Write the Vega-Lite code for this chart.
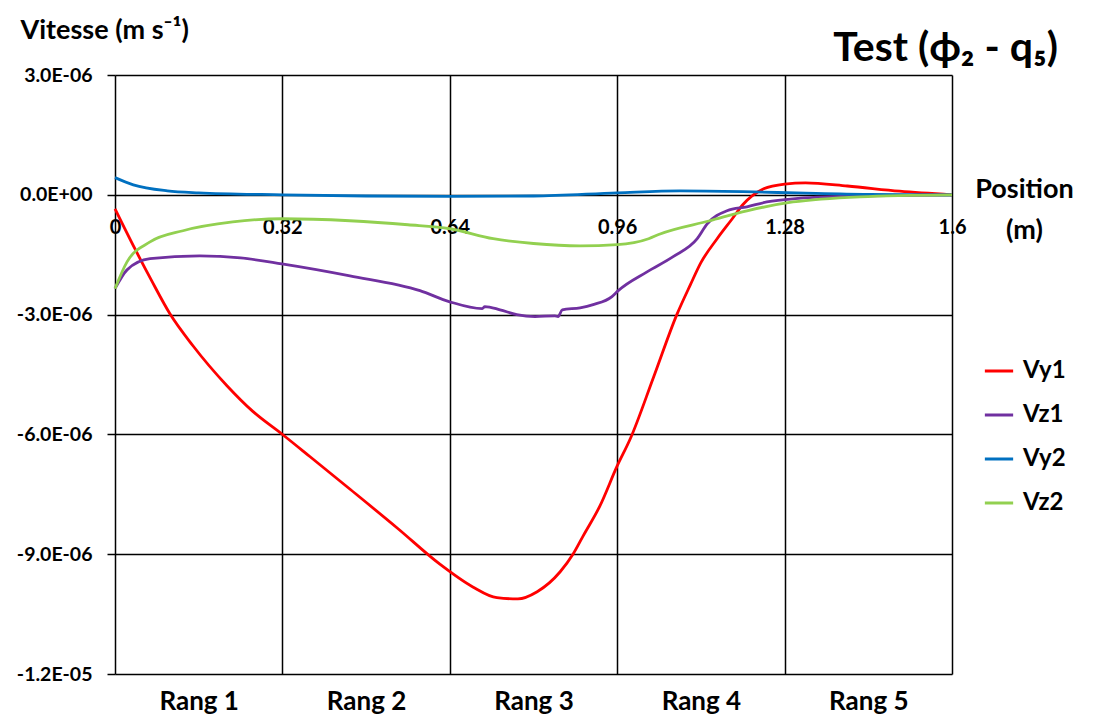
{
  "$schema": "https://vega.github.io/schema/vega-lite/v6.json",
  "width": 837,
  "height": 599,
  "autosize": {"type": "none"},
  "padding": {"left": 115, "top": 75, "right": 144, "bottom": 48},
  "background": "white",
  "config": {
    "font": "Lato",
    "view": {"stroke": null},
    "axis": {"labelFont": "Lato", "titleFont": "Lato"}
  },
  "title": {
    "text": "Test (ϕ₂ - q₅)",
    "anchor": "end",
    "frame": "group",
    "fontSize": 41,
    "fontWeight": "bold",
    "font": "Lato",
    "color": "black",
    "dx": 106,
    "dy": 66,
    "offset": 12
  },
  "data": {
    "values": [
      {"series": "Vy1", "pos": 0, "v": -0.35e-6},
      {"series": "Vy1", "pos": 0.038, "v": -1.35e-6},
      {"series": "Vy1", "pos": 0.07, "v": -2.15e-6},
      {"series": "Vy1", "pos": 0.105, "v": -2.98e-6},
      {"series": "Vy1", "pos": 0.149, "v": -3.78e-6},
      {"series": "Vy1", "pos": 0.214, "v": -4.78e-6},
      {"series": "Vy1", "pos": 0.264, "v": -5.43e-6},
      {"series": "Vy1", "pos": 0.319, "v": -5.99e-6},
      {"series": "Vy1", "pos": 0.373, "v": -6.56e-6},
      {"series": "Vy1", "pos": 0.45, "v": -7.38e-6},
      {"series": "Vy1", "pos": 0.54, "v": -8.35e-6},
      {"series": "Vy1", "pos": 0.621, "v": -9.25e-6},
      {"series": "Vy1", "pos": 0.684, "v": -9.82e-6},
      {"series": "Vy1", "pos": 0.73, "v": -10.09e-6},
      {"series": "Vy1", "pos": 0.77, "v": -10.12e-6},
      {"series": "Vy1", "pos": 0.807, "v": -9.94e-6},
      {"series": "Vy1", "pos": 0.851, "v": -9.44e-6},
      {"series": "Vy1", "pos": 0.876, "v": -8.99e-6},
      {"series": "Vy1", "pos": 0.895, "v": -8.54e-6},
      {"series": "Vy1", "pos": 0.927, "v": -7.79e-6},
      {"series": "Vy1", "pos": 0.96, "v": -6.79e-6},
      {"series": "Vy1", "pos": 0.985, "v": -6.11e-6},
      {"series": "Vy1", "pos": 1.03, "v": -4.55e-6},
      {"series": "Vy1", "pos": 1.074, "v": -3.0e-6},
      {"series": "Vy1", "pos": 1.1, "v": -2.25e-6},
      {"series": "Vy1", "pos": 1.12, "v": -1.7e-6},
      {"series": "Vy1", "pos": 1.151, "v": -1.1e-6},
      {"series": "Vy1", "pos": 1.18, "v": -0.6e-6},
      {"series": "Vy1", "pos": 1.2, "v": -0.25e-6},
      {"series": "Vy1", "pos": 1.24, "v": 0.15e-6},
      {"series": "Vy1", "pos": 1.28, "v": 0.27e-6},
      {"series": "Vy1", "pos": 1.32, "v": 0.3e-6},
      {"series": "Vy1", "pos": 1.4, "v": 0.22e-6},
      {"series": "Vy1", "pos": 1.5, "v": 0.09e-6},
      {"series": "Vy1", "pos": 1.6, "v": 0},

      {"series": "Vz1", "pos": 0, "v": -2.35e-6},
      {"series": "Vz1", "pos": 0.023, "v": -1.88e-6},
      {"series": "Vz1", "pos": 0.067, "v": -1.6e-6},
      {"series": "Vz1", "pos": 0.162, "v": -1.53e-6},
      {"series": "Vz1", "pos": 0.24, "v": -1.58e-6},
      {"series": "Vz1", "pos": 0.319, "v": -1.73e-6},
      {"series": "Vz1", "pos": 0.449, "v": -2.03e-6},
      {"series": "Vz1", "pos": 0.583, "v": -2.4e-6},
      {"series": "Vz1", "pos": 0.64, "v": -2.68e-6},
      {"series": "Vz1", "pos": 0.702, "v": -2.85e-6},
      {"series": "Vz1", "pos": 0.707, "v": -2.8e-6},
      {"series": "Vz1", "pos": 0.736, "v": -2.88e-6},
      {"series": "Vz1", "pos": 0.768, "v": -3.0e-6},
      {"series": "Vz1", "pos": 0.803, "v": -3.05e-6},
      {"series": "Vz1", "pos": 0.841, "v": -3.03e-6},
      {"series": "Vz1", "pos": 0.847, "v": -3.05e-6},
      {"series": "Vz1", "pos": 0.855, "v": -2.88e-6},
      {"series": "Vz1", "pos": 0.889, "v": -2.83e-6},
      {"series": "Vz1", "pos": 0.914, "v": -2.75e-6},
      {"series": "Vz1", "pos": 0.95, "v": -2.55e-6},
      {"series": "Vz1", "pos": 0.962, "v": -2.4e-6},
      {"series": "Vz1", "pos": 1.017, "v": -1.93e-6},
      {"series": "Vz1", "pos": 1.067, "v": -1.55e-6},
      {"series": "Vz1", "pos": 1.113, "v": -1.1e-6},
      {"series": "Vz1", "pos": 1.132, "v": -0.73e-6},
      {"series": "Vz1", "pos": 1.17, "v": -0.4e-6},
      {"series": "Vz1", "pos": 1.208, "v": -0.3e-6},
      {"series": "Vz1", "pos": 1.246, "v": -0.18e-6},
      {"series": "Vz1", "pos": 1.296, "v": -0.1e-6},
      {"series": "Vz1", "pos": 1.424, "v": -0.03e-6},
      {"series": "Vz1", "pos": 1.6, "v": 0},

      {"series": "Vy2", "pos": 0, "v": 0.43e-6},
      {"series": "Vy2", "pos": 0.035, "v": 0.25e-6},
      {"series": "Vy2", "pos": 0.1, "v": 0.1e-6},
      {"series": "Vy2", "pos": 0.16, "v": 0.05e-6},
      {"series": "Vy2", "pos": 0.32, "v": 0.0},
      {"series": "Vy2", "pos": 0.48, "v": -0.03e-6},
      {"series": "Vy2", "pos": 0.64, "v": -0.04e-6},
      {"series": "Vy2", "pos": 0.8, "v": -0.03e-6},
      {"series": "Vy2", "pos": 0.96, "v": 0.05e-6},
      {"series": "Vy2", "pos": 1.08, "v": 0.1e-6},
      {"series": "Vy2", "pos": 1.2, "v": 0.08e-6},
      {"series": "Vy2", "pos": 1.32, "v": 0.04e-6},
      {"series": "Vy2", "pos": 1.44, "v": 0.01e-6},
      {"series": "Vy2", "pos": 1.6, "v": 0},

      {"series": "Vz2", "pos": 0, "v": -2.35e-6},
      {"series": "Vz2", "pos": 0.023, "v": -1.68e-6},
      {"series": "Vz2", "pos": 0.067, "v": -1.18e-6},
      {"series": "Vz2", "pos": 0.13, "v": -0.9e-6},
      {"series": "Vz2", "pos": 0.225, "v": -0.68e-6},
      {"series": "Vz2", "pos": 0.32, "v": -0.6e-6},
      {"series": "Vz2", "pos": 0.449, "v": -0.65e-6},
      {"series": "Vz2", "pos": 0.56, "v": -0.75e-6},
      {"series": "Vz2", "pos": 0.64, "v": -0.85e-6},
      {"series": "Vz2", "pos": 0.723, "v": -1.1e-6},
      {"series": "Vz2", "pos": 0.8, "v": -1.22e-6},
      {"series": "Vz2", "pos": 0.889, "v": -1.28e-6},
      {"series": "Vz2", "pos": 0.96, "v": -1.25e-6},
      {"series": "Vz2", "pos": 1.02, "v": -1.1e-6},
      {"series": "Vz2", "pos": 1.042, "v": -0.98e-6},
      {"series": "Vz2", "pos": 1.137, "v": -0.65e-6},
      {"series": "Vz2", "pos": 1.208, "v": -0.4e-6},
      {"series": "Vz2", "pos": 1.296, "v": -0.18e-6},
      {"series": "Vz2", "pos": 1.424, "v": -0.05e-6},
      {"series": "Vz2", "pos": 1.6, "v": 0}
    ]
  },
  "layer": [
    {
      "mark": {"type": "line", "strokeWidth": 2.5, "opacity": 0},
      "encoding": {
        "x": {
          "field": "pos", "type": "quantitative",
          "scale": {"domain": [0, 1.6], "nice": false, "zero": false},
          "axis": {
            "orient": "bottom",
            "values": [0.16, 0.48, 0.8, 1.12, 1.44],
            "labelExpr": "'Rang ' + round(datum.value / 0.32 + 0.5)",
            "grid": false, "ticks": false, "domain": false,
            "labelFontSize": 26, "labelFontWeight": "bold", "labelColor": "black",
            "labelPadding": 14,
            "title": null
          }
        },
        "y": {
          "field": "v", "type": "quantitative",
          "scale": {"domain": [-1.2e-5, 3e-6], "nice": false},
          "axis": {
            "values": [3e-6, 0, -3e-6, -6e-6, -9e-6, -1.2e-5],
            "labelExpr": "replace(replace(replace(format(datum.value, '.1e'), 'e-', 'E-0'), 'e+', 'E+0'), '−', '-')",
            "grid": true, "gridColor": "black", "gridWidth": 1.5, "gridOpacity": 1,
            "ticks": true, "tickSize": 8, "tickColor": "black", "tickWidth": 1.5,
            "domain": false,
            "labelFontSize": 19.5, "labelFontWeight": "bold", "labelColor": "black",
            "labelPadding": 15, "labelFlush": false,
            "title": "Vitesse (m s⁻¹)",
            "titleAngle": 0, "titleAlign": "left", "titleBaseline": "alphabetic",
            "titleX": -95, "titleY": -37,
            "titleFontSize": 27, "titleFontWeight": "bold", "titleColor": "black"
          }
        },
        "detail": {"field": "series"}
      }
    },
    {
      "mark": {"type": "line", "strokeWidth": 2.8, "interpolate": "monotone"},
      "encoding": {
        "x": {
          "field": "pos", "type": "quantitative",
          "scale": {"domain": [0, 1.6], "nice": false, "zero": false},
          "axis": {
            "orient": "bottom",
            "offset": -478,
            "values": [0, 0.32, 0.64, 0.96, 1.28, 1.6],
            "labelExpr": "format(datum.value, '.2~f')",
            "grid": true, "gridColor": "black", "gridWidth": 1.5, "gridOpacity": 1,
            "ticks": false, "domain": false,
            "labelFontSize": 20, "labelFontWeight": "bold", "labelColor": "black",
            "labelPadding": 21, "labelFlush": false,
            "title": ["Position", "(m)"],
            "titleFontSize": 27, "titleFontWeight": "bold", "titleColor": "black",
            "titleX": 909, "titleY": 1, "titleAlign": "center", "titleBaseline": "alphabetic",
            "titleLineHeight": 41, "titleAngle": 0
          }
        },
        "y": {
          "field": "v", "type": "quantitative",
          "scale": {"domain": [-1.2e-5, 3e-6], "nice": false}
        },
        "color": {
          "field": "series", "type": "nominal",
          "scale": {"domain": ["Vy1", "Vz1", "Vy2", "Vz2"], "range": ["#FF0000", "#7030A0", "#0070C0", "#92D050"]},
          "legend": {
            "orient": "none", "legendX": 868, "legendY": 280,
            "title": null, "symbolType": "stroke", "symbolStrokeWidth": 3, "symbolSize": 800,
            "labelFontSize": 24, "labelFontWeight": "bold", "labelColor": "black",
            "rowPadding": 16, "labelOffset": 8
          }
        }
      }
    }
  ],
  "resolve": {"axis": {"x": "independent"}}
}
